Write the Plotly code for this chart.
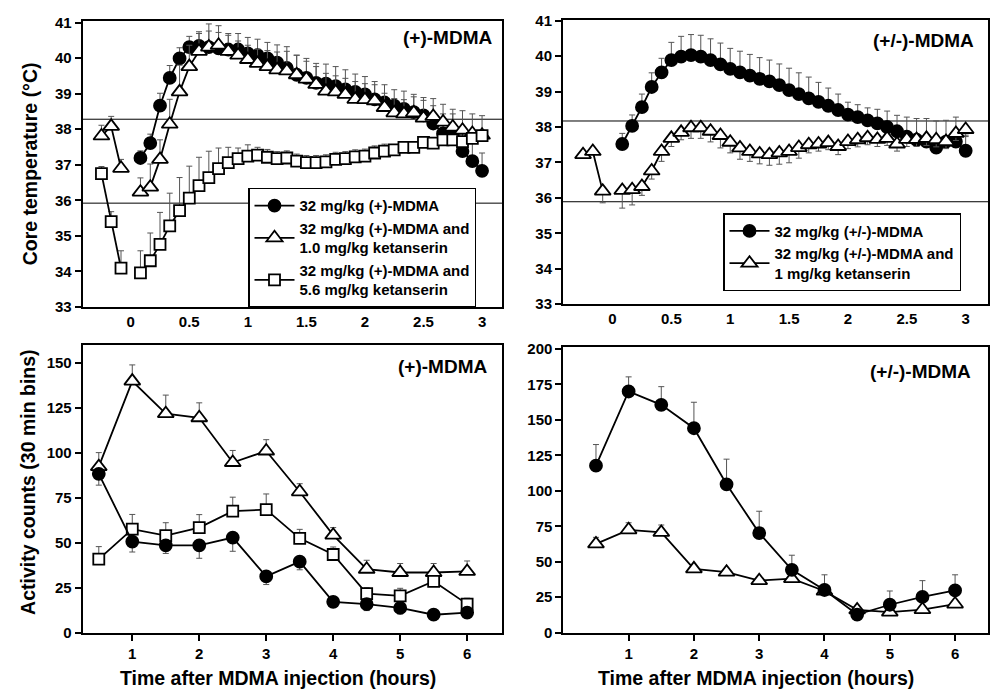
import plotly.graph_objects as go

# ---------------- DATA ----------------
t_pre = [-0.25, -0.167, -0.083]
t_post = [round(i / 12, 3) for i in range(1, 37)]  # 5-min bins, 0.083 .. 3.0

# Top-left: (+)-MDMA
tl_mdma = [37.19, 37.61, 38.66, 39.44, 39.99, 40.31, 40.34, 40.31, 40.27, 40.24, 40.24, 40.13,
           40.08, 39.99, 39.87, 39.72, 39.53, 39.44, 39.30, 39.28, 39.21, 39.12, 39.05, 38.98,
           38.84, 38.75, 38.66, 38.57, 38.48, 38.39, 38.16, 37.88, 37.83, 37.38, 37.10, 36.83]
tl_mdma_err = [0.2, 0.25, 0.35, 0.35, 0.3, 0.3, 0.4, 0.45, 0.45, 0.45, 0.45, 0.45,
               0.45, 0.45, 0.5, 0.6, 0.55, 0.55, 0.55, 0.55, 0.55, 0.55, 0.5, 0.5,
               0.5, 0.5, 0.45, 0.5, 0.5, 0.5, 0.5, 0.55, 0.6, 0.55, 0.55, 0.5]
tl_k1_pre = [37.81, 38.08, 36.90]
tl_k1_pre_err = [0.3, 0.28, 0.25]
tl_k1 = [36.23, 36.37, 37.15, 38.14, 39.05, 39.76, 40.19, 40.31, 40.36, 40.19, 40.08, 39.96,
         39.85, 39.76, 39.67, 39.64, 39.53, 39.41, 39.26, 39.07, 39.05, 38.98, 38.84, 38.83,
         38.80, 38.61, 38.46, 38.43, 38.46, 38.31, 38.36, 38.20, 38.06, 37.97, 37.88, 37.83]
tl_k1_err = [0.4, 0.65, 0.55, 0.7, 0.75, 0.6, 0.5, 0.65, 0.55, 0.45, 0.4, 0.4,
             0.4, 0.45, 0.5, 0.55, 0.55, 0.5, 0.5, 0.5, 0.45, 0.45, 0.5, 0.45,
             0.45, 0.4, 0.4, 0.4, 0.45, 0.5, 0.5, 0.5, 0.5, 0.55, 0.55, 0.55]
tl_k56_pre = [36.75, 35.40, 34.09]
tl_k56_pre_err = [0.2, 0.28, 0.49]
tl_k56 = [33.96, 34.30, 34.76, 35.28, 35.71, 36.06, 36.41, 36.64, 36.89, 37.06, 37.17, 37.24,
          37.27, 37.21, 37.17, 37.19, 37.10, 37.06, 37.06, 37.08, 37.15, 37.17, 37.22, 37.24,
          37.33, 37.38, 37.42, 37.49, 37.49, 37.63, 37.61, 37.70, 37.70, 37.65, 37.74, 37.82]
tl_k56_err = [0.62, 0.78, 0.9, 0.92, 0.93, 0.9, 0.8, 0.74, 0.58, 0.43, 0.3, 0.32,
              0.22, 0.22, 0.2, 0.2, 0.2, 0.2, 0.2, 0.2, 0.2, 0.2, 0.2, 0.2,
              0.2, 0.2, 0.15, 0.15, 0.15, 0.15, 0.15, 0.15, 0.15, 0.15, 0.15, 0.15]

# Top-right: (+/-)-MDMA
tr_mdma = [37.52, 38.03, 38.56, 39.13, 39.54, 39.89, 39.99, 40.03, 39.99, 39.89, 39.77, 39.64,
           39.54, 39.45, 39.36, 39.29, 39.18, 39.04, 38.93, 38.81, 38.71, 38.60, 38.48, 38.35,
           38.28, 38.19, 38.10, 38.00, 37.88, 37.73, 37.64, 37.59, 37.42, 37.59, 37.59, 37.33]
tr_mdma_err = [0.3, 0.31, 0.37, 0.4, 0.4, 0.5, 0.57, 0.58, 0.6, 0.6, 0.6, 0.58,
               0.6, 0.6, 0.6, 0.6, 0.6, 0.62, 0.6, 0.6, 0.55, 0.5, 0.45, 0.35,
               0.35, 0.35, 0.4, 0.45, 0.45, 0.55, 0.6, 0.65, 0.75, 0.6, 0.69, 0.44]
tr_k1_pre = [37.22, 37.31, 36.19]
tr_k1_pre_err = [0.05, 0.05, 0.33]
tr_k1 = [36.21, 36.23, 36.32, 36.76, 37.31, 37.68, 37.85, 37.98, 37.98, 37.88, 37.76, 37.57,
         37.41, 37.31, 37.24, 37.22, 37.27, 37.31, 37.42, 37.50, 37.52, 37.56, 37.45, 37.59,
         37.64, 37.70, 37.65, 37.68, 37.52, 37.65, 37.65, 37.68, 37.64, 37.59, 37.82, 37.93]
tr_k1_err = [0.5, 0.43, 0.25, 0.23, 0.28, 0.23, 0.21, 0.3, 0.3, 0.3, 0.35, 0.3,
             0.32, 0.28, 0.28, 0.3, 0.32, 0.32, 0.3, 0.23, 0.2, 0.2, 0.23, 0.2,
             0.2, 0.2, 0.2, 0.2, 0.2, 0.2, 0.2, 0.2, 0.2, 0.2, 0.2, 0.2]

# Bottom panels: activity counts (30 min bins)
t_act = [0.5, 1, 1.5, 2, 2.5, 3, 3.5, 4, 4.5, 5, 5.5, 6]
bl_mdma = [88.4, 50.7, 48.6, 48.6, 52.9, 31.3, 39.5, 17.2, 15.9, 13.8, 10.0, 11.2]
bl_mdma_err = [6.3, 5.8, 4.5, 7.2, 7.6, 4.5, 4.5, 2.0, 3.6, 3.3, 1.5, 2.0]
bl_k1 = [92.4, 140.0, 121.9, 119.6, 94.7, 101.1, 78.4, 54.3, 35.3, 33.5, 33.5, 34.1]
bl_k1_err = [7.8, 9.0, 10.3, 8.3, 6.7, 6.3, 4.5, 4.2, 5.0, 5.0, 5.0, 5.8]
bl_k56 = [40.9, 57.6, 54.0, 58.5, 67.6, 68.5, 52.5, 43.5, 21.7, 20.5, 28.6, 15.9]
bl_k56_err = [7.0, 8.2, 7.2, 7.2, 7.8, 8.7, 5.0, 4.2, 3.3, 4.2, 3.0, 3.3]

br_mdma = [117.7, 170.0, 160.6, 144.1, 104.6, 70.2, 44.3, 30.1, 12.8, 19.7, 25.2, 29.8]
br_mdma_err = [14.9, 10.3, 12.8, 18.3, 17.7, 15.4, 10.3, 10.7, 2.0, 9.7, 11.5, 11.0]
br_k1 = [62.6, 72.5, 70.7, 45.0, 42.7, 36.7, 38.1, 29.4, 16.1, 14.5, 16.3, 20.2]
br_k1_err = [4.6, 5.0, 5.2, 1.0, 1.0, 1.0, 1.0, 1.0, 1.0, 1.0, 1.0, 1.0]

legend_tl = ["32 mg/kg (+)-MDMA",
             "32 mg/kg (+)-MDMA and<br>1.0 mg/kg ketanserin",
             "32 mg/kg (+)-MDMA and<br>5.6 mg/kg ketanserin"]
legend_tr = ["32 mg/kg (+/-)-MDMA",
             "32 mg/kg (+/-)-MDMA and<br>1 mg/kg ketanserin"]
panel_labels = ["(+)-MDMA", "(+/-)-MDMA"]
temp_ticks = [33, 34, 35, 36, 37, 38, 39, 40, 41]
temp_xticks = [0, 0.5, 1, 1.5, 2, 2.5, 3]
act_xticks = [1, 2, 3, 4, 5, 6]
bl_yticks = [0, 25, 50, 75, 100, 125, 150]
br_yticks = [0, 25, 50, 75, 100, 125, 150, 175, 200]
baseline_tl = [38.28, 35.92]
baseline_tr = [38.17, 35.89]

# ---------------- FIGURE ----------------
FONT = "Liberation Sans, Arial, sans-serif"
BLACK = "#000000"
ERRC = "#555555"

fig = go.Figure()


def add_series(x, y, err, symbol, filled, xa, ya, name=None, legend=None, down=False, size=12):
    showleg = name is not None
    ey = dict(type="data", symmetric=False, color=ERRC, thickness=1, width=3)
    if down:
        ey.update(array=[0] * len(err), arrayminus=err)
    else:
        ey.update(array=err, arrayminus=[0] * len(err))
    fig.add_trace(go.Scatter(
        x=x, y=y, mode="lines+markers", xaxis=xa, yaxis=ya,
        name=name if name else "", showlegend=showleg, legend=legend if legend else "legend",
        line=dict(color=BLACK, width=1.8),
        marker=dict(symbol=symbol, size=size,
                    color=BLACK if filled else "white",
                    line=dict(color=BLACK, width=1.8)),
        error_y=ey, connectgaps=False, cliponaxis=False,
    ))


def join(pre, post):
    return pre + [None] + post


tx = t_pre + [0] + t_post

# Top-left
add_series(t_post, tl_mdma, tl_mdma_err, "circle", True, "x", "y", legend_tl[0], "legend")
add_series(tx, join(tl_k1_pre, tl_k1), tl_k1_pre_err + [0] + tl_k1_err, "triangle-up", False,
           "x", "y", legend_tl[1], "legend", size=14)
add_series(tx, join(tl_k56_pre, tl_k56), tl_k56_pre_err + [0] + tl_k56_err, "square", False,
           "x", "y", legend_tl[2], "legend", size=11)

# Top-right
add_series(t_post, tr_mdma, tr_mdma_err, "circle", True, "x2", "y2", legend_tr[0], "legend2")
add_series(tx, join(tr_k1_pre, tr_k1), tr_k1_pre_err + [0] + tr_k1_err, "triangle-up", False,
           "x2", "y2", legend_tr[1], "legend2", down=True, size=14)

# Bottom-left
add_series(t_act, bl_k1, bl_k1_err, "triangle-up", False, "x3", "y3", size=14)
add_series(t_act, bl_k56, bl_k56_err, "square", False, "x3", "y3", size=11)
add_series(t_act, bl_mdma, bl_mdma_err, "circle", True, "x3", "y3", down=True)

# Bottom-right
add_series(t_act, br_k1, br_k1_err, "triangle-up", False, "x4", "y4", size=14)
add_series(t_act, br_mdma, br_mdma_err, "circle", True, "x4", "y4")

tickfont = dict(family=FONT, size=15, color=BLACK, weight="bold")
frame = dict(showline=True, linecolor=BLACK, linewidth=2, mirror=True, showgrid=False,
             zeroline=False, tickfont=tickfont)

fig.update_layout(
    width=993, height=700, margin=dict(l=0, r=0, t=0, b=0),
    paper_bgcolor="white", plot_bgcolor="white",
    font=dict(family=FONT, color=BLACK),
    xaxis=dict(domain=[0.0833, 0.5055], range=[-0.41, 3.17], tickvals=temp_xticks,
               ticks="", anchor="y", **frame),
    yaxis=dict(domain=[0.5629, 0.9814], range=[33, 41.05], tickvals=temp_ticks,
               ticks="outside", ticklen=6, tickwidth=1.5, tickcolor=BLACK, anchor="x", **frame),
    xaxis2=dict(domain=[0.5670, 0.9950], range=[-0.42, 3.19], tickvals=temp_xticks,
                ticks="", anchor="y2", **frame),
    yaxis2=dict(domain=[0.5671, 0.9829], range=[33, 41.03], tickvals=temp_ticks,
                ticks="outside", ticklen=6, tickwidth=1.5, tickcolor=BLACK, anchor="x2", **frame),
    xaxis3=dict(domain=[0.0833, 0.5055], range=[0.26, 6.52], tickvals=act_xticks,
                ticks="outside", ticklen=6, tickwidth=1.5, tickcolor=BLACK, anchor="y3", **frame),
    yaxis3=dict(domain=[0.0867, 0.5071], range=[0, 160], tickvals=bl_yticks,
                ticks="outside", ticklen=6, tickwidth=1.5, tickcolor=BLACK, anchor="x3", **frame),
    xaxis4=dict(domain=[0.5673, 0.9947], range=[0, 6.5], tickvals=act_xticks,
                ticks="outside", ticklen=6, tickwidth=1.5, tickcolor=BLACK, anchor="y4", **frame),
    yaxis4=dict(domain=[0.0867, 0.5047], range=[0, 201.5], tickvals=br_yticks,
                ticks="outside", ticklen=6, tickwidth=1.5, tickcolor=BLACK, anchor="x4", **frame),
    legend=dict(x=248 / 993, y=1 - 184 / 700, xanchor="left", yanchor="top",
                bgcolor="white", bordercolor=BLACK, borderwidth=1.5,
                font=dict(family=FONT, size=15, color=BLACK, weight="bold"),
                tracegroupgap=0, itemwidth=40),
    legend2=dict(x=723 / 993, y=1 - 210 / 700, xanchor="left", yanchor="top",
                 bgcolor="white", bordercolor=BLACK, borderwidth=1.5,
                 font=dict(family=FONT, size=15, color=BLACK, weight="bold"),
                 tracegroupgap=0, itemwidth=40),
)

# Baseline horizontal lines
for yv in baseline_tl:
    fig.add_shape(type="line", xref="x domain", yref="y", x0=0, x1=1, y0=yv, y1=yv,
                  line=dict(color=BLACK, width=1), layer="below")
for yv in baseline_tr:
    fig.add_shape(type="line", xref="x2 domain", yref="y2", x0=0, x1=1, y0=yv, y1=yv,
                  line=dict(color=BLACK, width=1), layer="below")

# Panel labels
lab_font = dict(family=FONT, size=19, color=BLACK, weight="bold")
for txt, px, py in [(panel_labels[0], 447, 30), (panel_labels[1], 923, 33),
                    (panel_labels[0], 442, 367), (panel_labels[1], 920, 372)]:
    fig.add_annotation(text=txt, x=px / 993, y=1 - py / 700, xref="paper", yref="paper",
                       showarrow=False, font=lab_font, xanchor="center", yanchor="middle")

# Axis titles
title_font = dict(family=FONT, size=19.5, color=BLACK, weight="bold")
fig.add_annotation(text="Core temperature (°C)", x=30 / 993, y=1 - 160 / 700, xref="paper",
                   yref="paper", textangle=-90, showarrow=False, font=title_font,
                   xanchor="center", yanchor="middle")
fig.add_annotation(text="Activity counts (30 min bins)", x=28 / 993, y=1 - 486 / 700,
                   xref="paper", yref="paper", textangle=-90, showarrow=False, font=title_font,
                   xanchor="center", yanchor="middle")
for px in (278, 756):
    fig.add_annotation(text="Time after MDMA injection (hours)", x=px / 993, y=1 - 686 / 700,
                       xref="paper", yref="paper", showarrow=False, font=title_font,
                       xanchor="center", yanchor="middle")

fig.write_html("out.html")
